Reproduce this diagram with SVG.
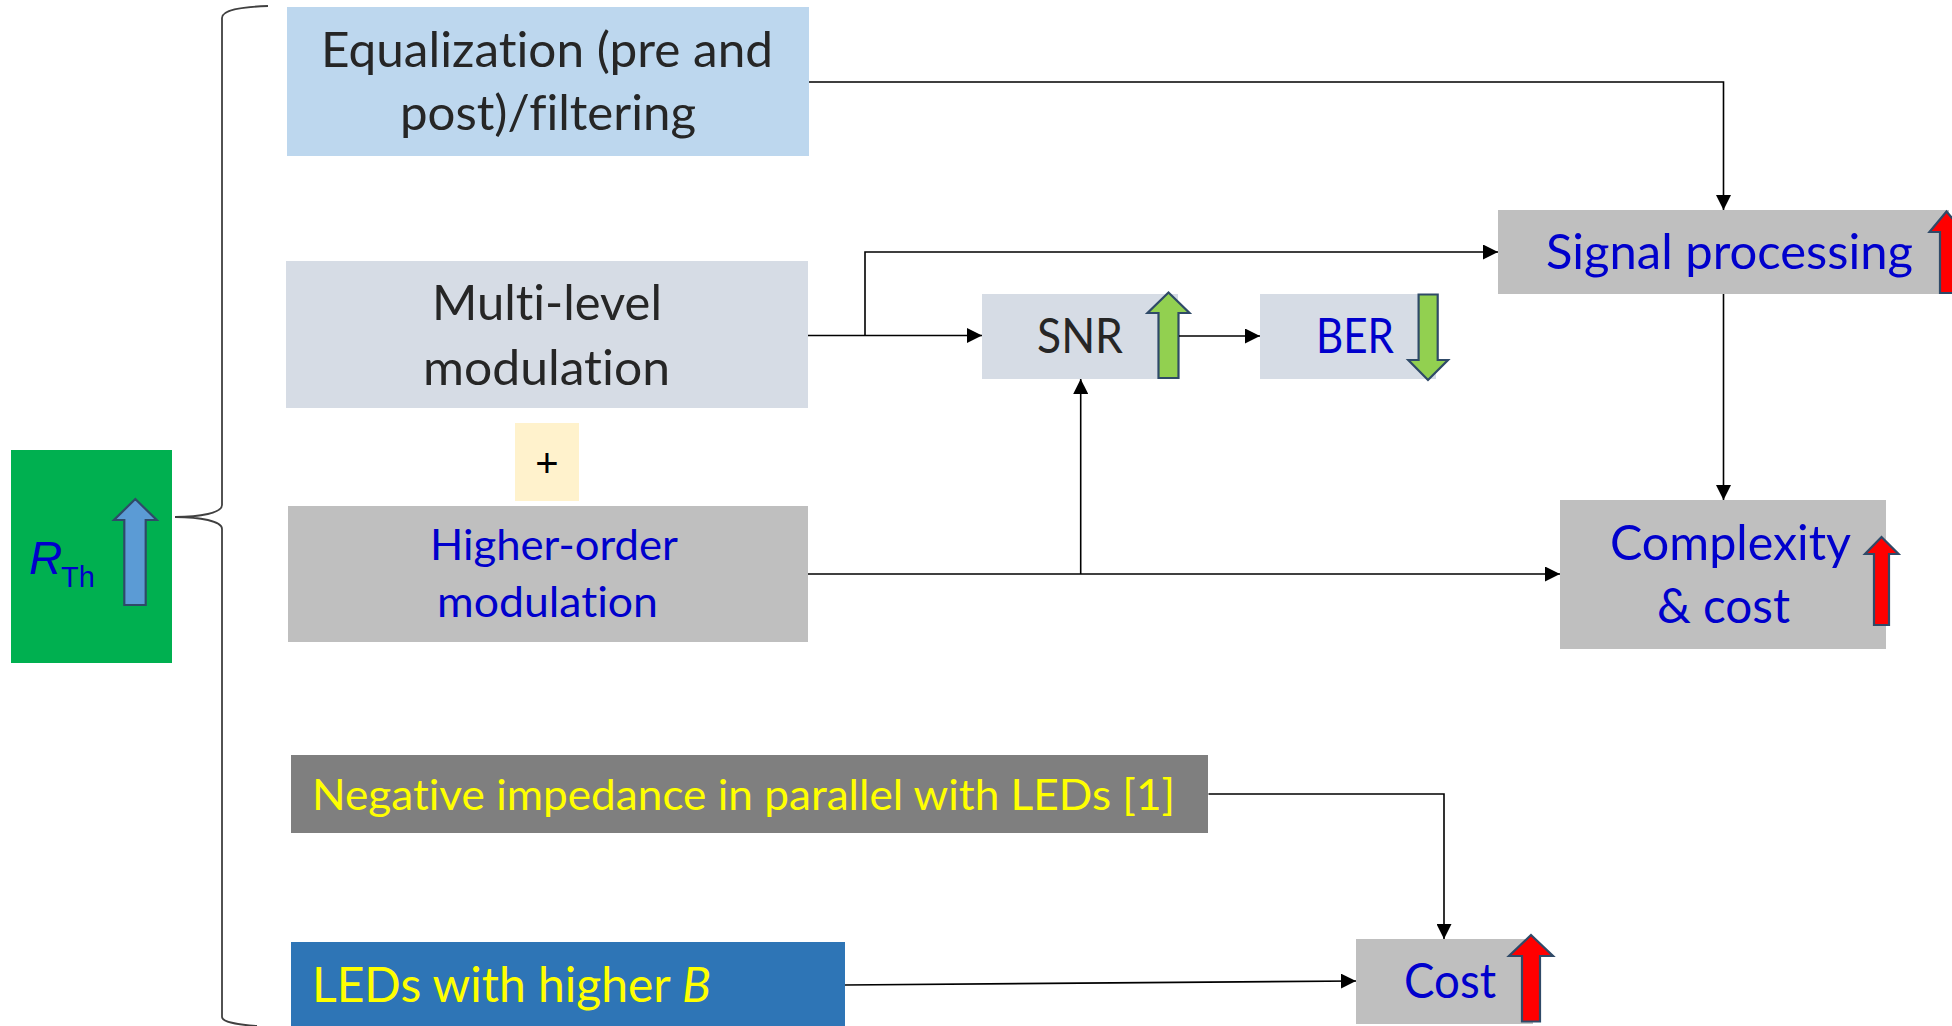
<svg xmlns="http://www.w3.org/2000/svg" width="1952" height="1026" viewBox="0 0 1952 1026">
  <style>
    .lbl { font-family: Lato, "Liberation Sans", sans-serif; font-variant-ligatures: none; font-feature-settings: "liga" 0, "clig" 0; }
    .big { font-size: 48px; }
    .mid { font-size: 42px; }
    .dark { fill: #262626; }
    .blue { fill: #0000CC; }
    .yel { fill: #FFFF00; }
    .conn { fill: none; stroke: #000; stroke-width: 1.6; }
    .brace { fill: none; stroke: #404040; stroke-width: 1.8; }
    .arr { stroke: #2F4A68; stroke-width: 2.2; stroke-linejoin: miter; }
  </style>
  <defs>
    <marker id="head" markerUnits="userSpaceOnUse" viewBox="0 0 15 15" markerWidth="15" markerHeight="15" refX="15" refY="7.5" orient="auto">
      <path d="M0,0 L15,7.5 L0,15 z" fill="#000"/>
    </marker>
  </defs>

  <rect width="1952" height="1026" fill="#fff"/>

  <!-- throughput block on the left -->
  <g id="rth">
    <rect x="11" y="450" width="161" height="213" fill="#00B050"/>
    <text class="blue" font-family="'Liberation Sans', Arial, sans-serif" font-style="italic" font-size="46" x="29" y="574">R</text>
    <text class="blue" font-family="'Liberation Sans', Arial, sans-serif" font-size="29" x="61" y="587">Th</text>
    <polygon class="arr" fill="#5B9BD5" points="135.3,499 156.7,520 145.7,520 145.7,605 124.3,605 124.3,520 114,520"/>
  </g>

  <!-- curly brace grouping the techniques -->
  <g id="brace">
    <path class="brace" d="M268,6 C240,7 222,10 222,18 V505 C222,513 200,517 175,517 C200,517 222,521 222,529 V1017 C222,1022 240,1025 257,1026"/>
  </g>

  <g id="equalization">
    <rect x="287" y="7" width="522" height="149" fill="#BDD7EE"/>
    <text class="lbl big dark" x="321" y="67" textLength="452" lengthAdjust="spacingAndGlyphs">Equalization (pre and</text>
    <text class="lbl big dark" x="400" y="130" textLength="296" lengthAdjust="spacingAndGlyphs">post)/filtering</text>
  </g>

  <g id="multilevel">
    <rect x="286" y="261" width="522" height="147" fill="#D6DCE5"/>
    <text class="lbl big dark" x="432" y="320" textLength="230" lengthAdjust="spacingAndGlyphs">Multi-level</text>
    <text class="lbl big dark" x="423" y="385" textLength="247" lengthAdjust="spacingAndGlyphs">modulation</text>
  </g>

  <g id="plus">
    <rect x="515" y="423" width="64" height="78" fill="#FFF2CC"/>
    <text font-family="'Liberation Sans', Arial, sans-serif" font-size="40" fill="#000" x="547" y="477" text-anchor="middle">+</text>
  </g>

  <g id="higherorder">
    <rect x="288" y="506" width="520" height="136" fill="#BFBFBF"/>
    <text class="lbl mid blue" x="430" y="560" textLength="248" lengthAdjust="spacingAndGlyphs">Higher-order</text>
    <text class="lbl mid blue" x="437" y="617" textLength="221" lengthAdjust="spacingAndGlyphs">modulation</text>
  </g>

  <g id="snr">
    <rect x="982" y="294" width="196" height="85" fill="#D6DCE5"/>
    <text class="lbl big dark" x="1037" y="353" textLength="86" lengthAdjust="spacingAndGlyphs">SNR</text>
    <polygon class="arr" fill="#92D050" points="1168.5,292.5 1189.5,313 1178.5,313 1178.5,378 1158.5,378 1158.5,313 1147.5,313"/>
  </g>

  <g id="ber">
    <rect x="1260" y="294" width="176" height="85" fill="#D6DCE5"/>
    <text class="lbl big blue" x="1316" y="353" textLength="78" lengthAdjust="spacingAndGlyphs">BER</text>
    <polygon class="arr" fill="#92D050" points="1418.6,294.5 1437.7,294.5 1437.7,360 1448,360 1428,380 1408.3,360 1418.6,360"/>
  </g>

  <g id="signalprocessing">
    <rect x="1498" y="210" width="451" height="84" fill="#BFBFBF"/>
    <text class="lbl big blue" x="1546" y="269" textLength="367" lengthAdjust="spacingAndGlyphs">Signal processing</text>
    <polygon class="arr" fill="#FF0000" points="1946.5,211.5 1964,232 1955,232 1955,293 1940,293 1940,232 1929.5,232"/>
  </g>

  <g id="complexity">
    <rect x="1560" y="500" width="326" height="149" fill="#BFBFBF"/>
    <text class="lbl big blue" x="1610" y="560" textLength="241" lengthAdjust="spacingAndGlyphs">Complexity</text>
    <text class="lbl big blue" x="1657" y="623" textLength="133" lengthAdjust="spacingAndGlyphs">&amp; cost</text>
    <polygon class="arr" fill="#FF0000" points="1881.5,537 1898.5,554 1889,554 1889,625 1874,625 1874,554 1865,554"/>
  </g>

  <g id="negativeimpedance">
    <rect x="291" y="755" width="917" height="78" fill="#7F7F7F"/>
    <text class="lbl mid yel" x="312" y="810" textLength="863" lengthAdjust="spacingAndGlyphs">Negative impedance in parallel with LEDs [1]</text>
  </g>

  <g id="ledsB">
    <rect x="291" y="942" width="554" height="84" fill="#2E75B6"/>
    <text class="lbl big yel" x="312" y="1002" textLength="399" lengthAdjust="spacingAndGlyphs">LEDs with higher <tspan font-style="italic">B</tspan></text>
  </g>

  <g id="cost">
    <rect x="1356" y="939" width="177" height="85" fill="#BFBFBF"/>
    <text class="lbl big blue" x="1404" y="998" textLength="92" lengthAdjust="spacingAndGlyphs">Cost</text>
    <polygon class="arr" fill="#FF0000" points="1531,935 1553,956 1540,956 1540,1021.5 1522,1021.5 1522,956 1509,956"/>
  </g>

  <!-- connectors -->
  <g id="connectors">
    <path class="conn" d="M809,82 H1723.5 V210" marker-end="url(#head)"/>
    <path class="conn" d="M808,335.5 H982" marker-end="url(#head)"/>
    <path class="conn" d="M865,335.5 V252 H1498" marker-end="url(#head)"/>
    <path class="conn" d="M1179,336 H1260" marker-end="url(#head)"/>
    <path class="conn" d="M808,574 H1560" marker-end="url(#head)"/>
    <path class="conn" d="M1080.7,574 V379" marker-end="url(#head)"/>
    <path class="conn" d="M1723.5,294 V500" marker-end="url(#head)"/>
    <path class="conn" d="M1208.5,794 H1444 V939" marker-end="url(#head)"/>
    <path class="conn" d="M845,985 L1356,981" marker-end="url(#head)"/>
  </g>
</svg>
